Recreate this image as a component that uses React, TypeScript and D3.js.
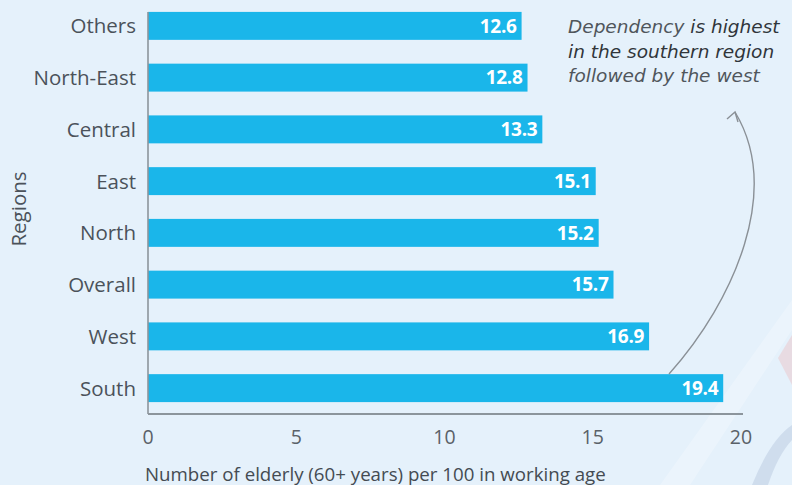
import React from "react";
import * as d3 from "d3";

const regions = ["Others", "North-East", "Central", "East", "North", "Overall", "West", "South"];
const values = [12.6, 12.8, 13.3, 15.1, 15.2, 15.7, 16.9, 19.4];
const xTicks = [0, 5, 10, 15, 20];
const xTitle = "Number of elderly (60+ years) per 100 in working age";
const yTitle = "Regions";

const W = 792;
const H = 485;
const FONT = "'Open Sans', 'Noto Sans', sans-serif";

export default function App() {
  const x = d3.scaleLinear().domain([0, 20]).range([148, 741]);
  const y = d3
    .scaleBand<string>()
    .domain(regions)
    .range([0, 414])
    .paddingInner(0.46)
    .paddingOuter(0.23);
  const bw = y.bandwidth();
  const axisY = 414;

  return (
    <svg
      width={W}
      height={H}
      style={{ position: "absolute", left: 0, top: 0, display: "block" }}
      fontFamily={FONT}
    >
      <rect x={0} y={0} width={W} height={H} fill="#e5f1fb" />
      {/* faint decorations */}
      <polygon points="660,485 792,300 792,330 690,485" fill="#ffffff" opacity={0.25} />
      <polygon points="792,335 778,358 792,385" fill="#e8d6dc" opacity={0.8} />
      <path d="M 752 485 Q 770 440 792 425 L 792 440 Q 778 455 768 485 Z" fill="#c9d8ea" opacity={0.8} />

      {/* bars */}
      {regions.map((r, i) => (
        <g key={r}>
          <rect x={x(0)} y={y(r)} width={x(values[i]) - x(0)} height={bw} fill="#1ab6ea" />
          <text
            x={x(values[i]) - 5}
            y={(y(r) as number) + bw / 2}
            dy="0.36em"
            textAnchor="end"
            fill="#ffffff"
            fontWeight={700}
            fontSize={19}
            letterSpacing={-0.3}
          >
            {values[i].toFixed(1)}
          </text>
          <text
            x={136}
            y={(y(r) as number) + bw / 2}
            dy="0.36em"
            textAnchor="end"
            fill="#4b525a"
            fontSize={20.5}
          >
            {r}
          </text>
        </g>
      ))}

      {/* axes */}
      <line x1={x(0)} x2={x(0)} y1={y(regions[0]) as number} y2={axisY} stroke="#8c959c" strokeWidth={1.6} />
      <line x1={x(0)} x2={x(20) + 2} y1={axisY} y2={axisY} stroke="#8c959c" strokeWidth={1.8} />
      {xTicks.map((t) => (
        <text key={t} x={x(t)} y={437} dy="0.36em" textAnchor="middle" fill="#5a6168" fontSize={19.5}>
          {t}
        </text>
      ))}
      <text x={145} y={474} dy="0.36em" fill="#444b52" fontSize={18.7}>
        {xTitle}
      </text>
      <text
        transform="translate(19,209) rotate(-90)"
        textAnchor="middle"
        dy="0.36em"
        fill="#4b525a"
        fontSize={20.5}
      >
        {yTitle}
      </text>

      {/* annotation */}
      <g fontStyle="italic" fill="#50565c" fontSize={18.5} fontFamily="'DejaVu Sans', sans-serif">
        <text x={568} y={33}>
          <tspan>Dependency </tspan>
          <tspan fill="#30353a">is highest</tspan>
        </text>
        <text x={568} y={57.5} fill="#30353a">
          in the southern region
        </text>
        <text x={568} y={82}>
          followed by the west
        </text>
      </g>
      <path
        d="M 669 374 C 735 300 782 190 735 112"
        fill="none"
        stroke="#8a9096"
        strokeWidth={1.4}
      />
      <path d="M 727 119 L 735 112 L 738 122" fill="none" stroke="#8a9096" strokeWidth={1.4} />
    </svg>
  );
}
